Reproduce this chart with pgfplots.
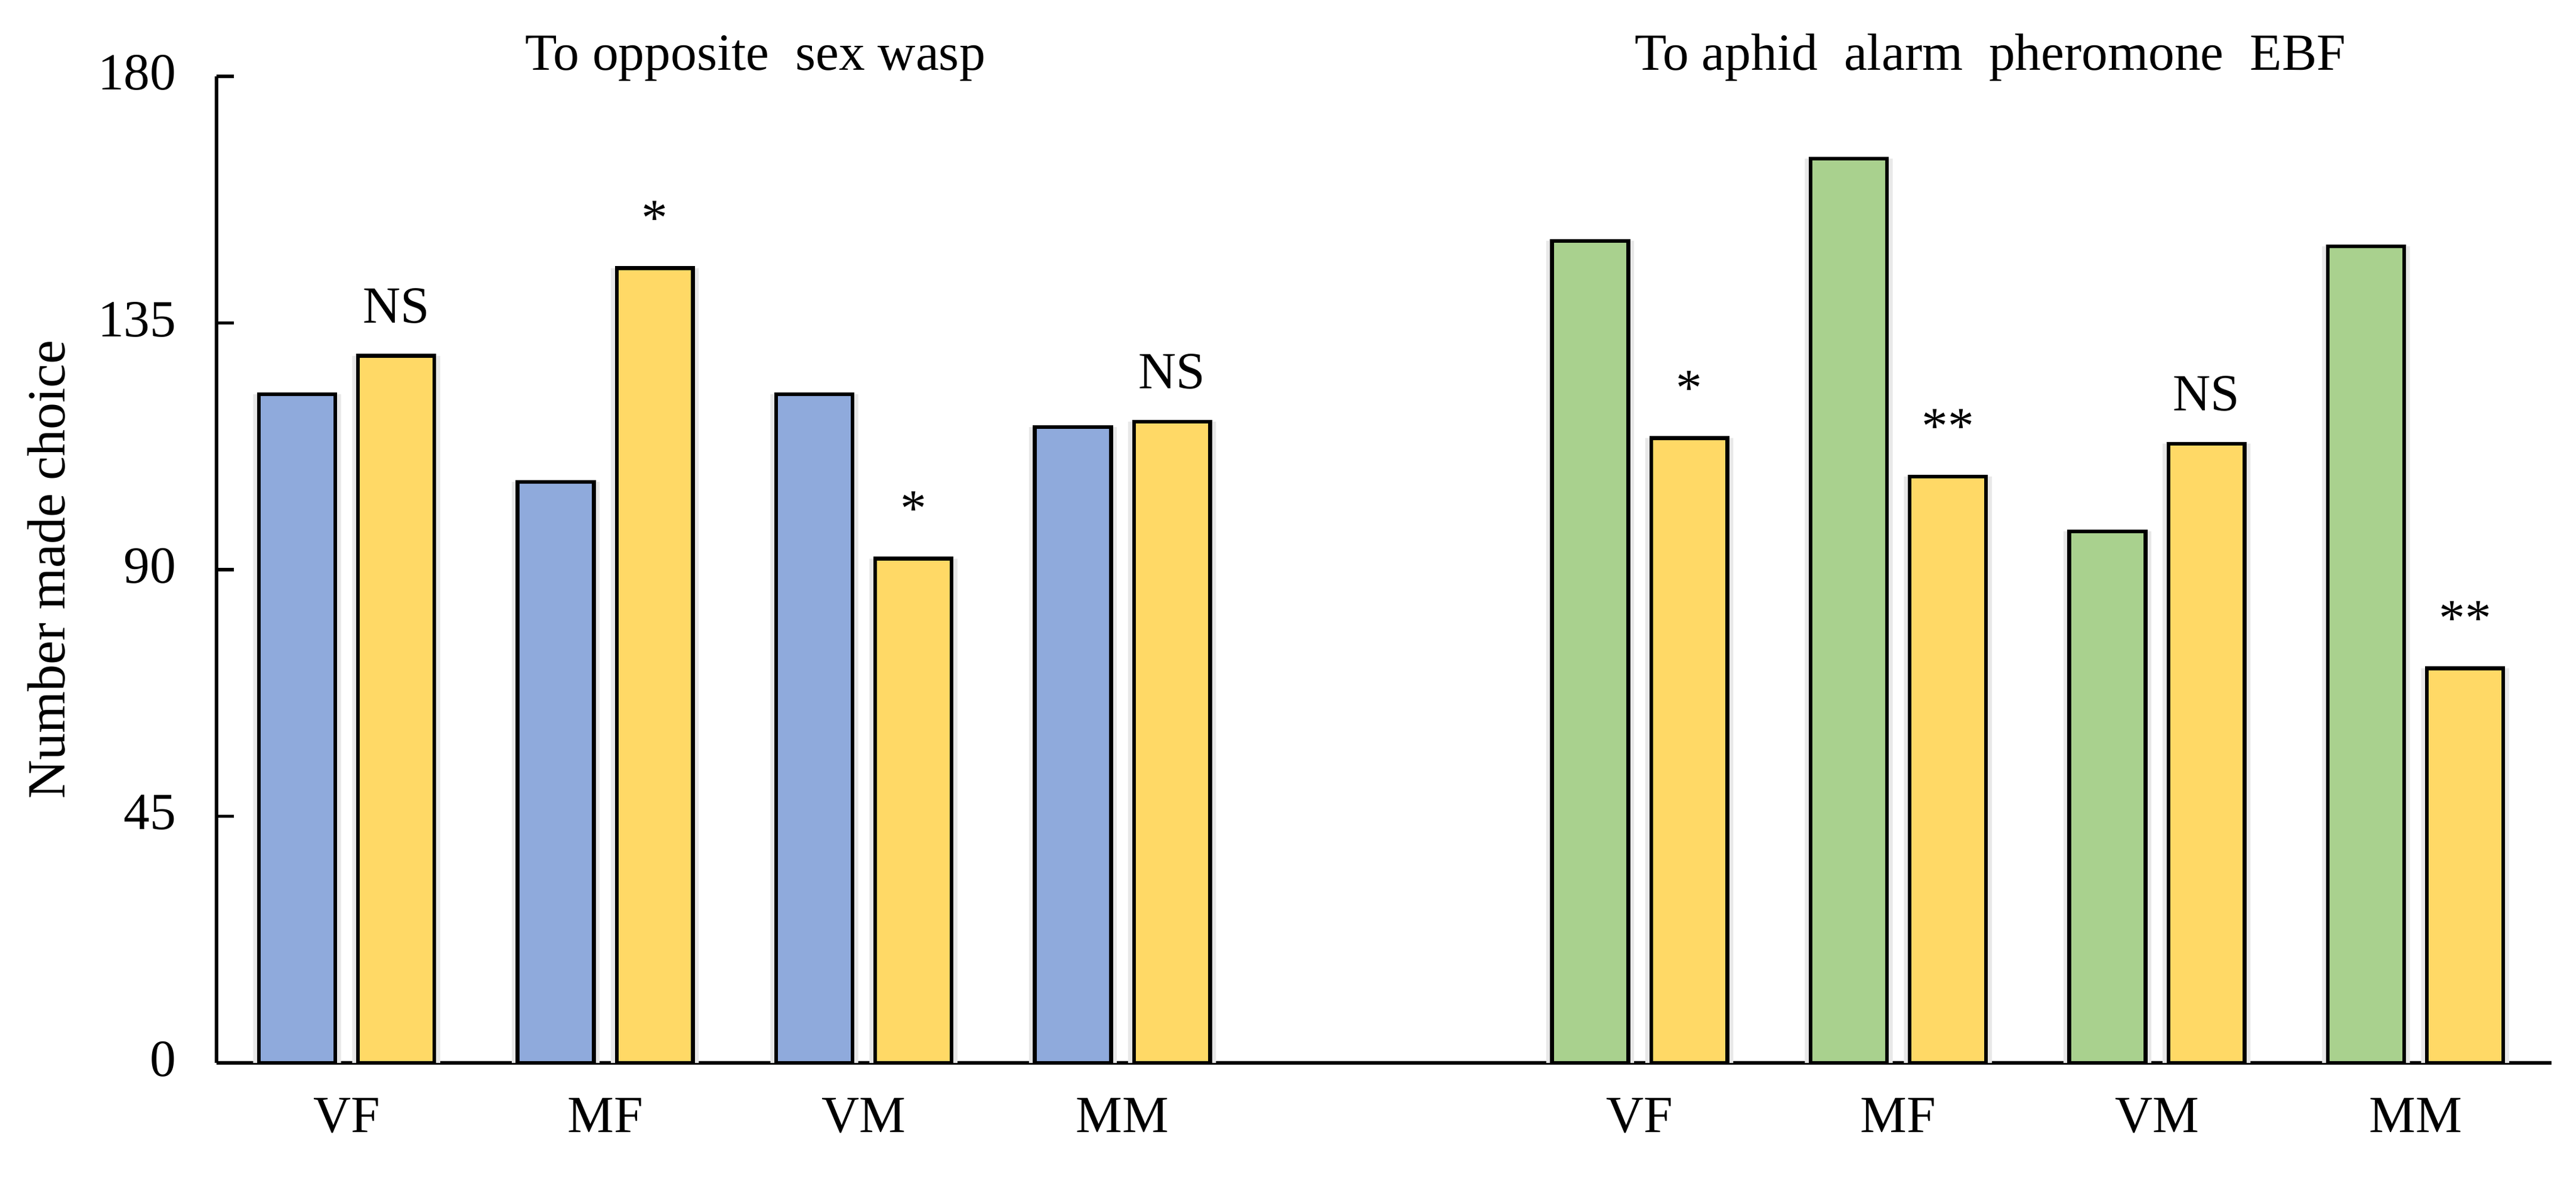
\documentclass[border=0pt]{standalone}
\usepackage{pgfplots}
\pgfplotsset{compat=1.18}
\usepackage{fontspec}
\setmainfont{Liberation Serif}
\definecolor{cblue}{HTML}{8FAADC}
\definecolor{cyellow}{HTML}{FFD966}
\definecolor{cgreen}{HTML}{A9D18E}
\newcommand{\fs}{\fontsize{17.5}{21}\selectfont}
\begin{document}
\begin{tikzpicture}
\begin{axis}[
  scale only axis, width=782.8pt, height=330.8pt,
  xmin=-0.503, xmax=8.526, ymin=0, ymax=180,
  axis x line=bottom, axis y line=left,
  axis line style={-, line width=1.05pt, black},
  ytick={0,45,90,135,180},
  xtick={0,1,2,3,5,6,7,8},
  xticklabels={VF,MF,VM,MM,VF,MF,VM,MM},
  x tick style={draw=none},
  y tick style={line width=1.05pt, black},
  tick align=inside, major tick length=5.7pt,
  tick label style={font=\fs},
  /pgf/number format/assume math mode=true,
  yticklabel style={xshift=-10pt, yshift=1.2pt},
  xticklabel style={yshift=-8.4pt},
  clip=false,
  every axis plot/.append style={ybar, line width=1.25pt},
]
% soft shadows behind bars
\addplot[draw=none, fill=black!9, bar width=0.34, bar shift=-0.1915] coordinates {(0,122) (1,106) (2,122) (3,116)};
\addplot[draw=none, fill=black!9, bar width=0.34, bar shift=0.1915] coordinates {(0,129) (1,145) (2,92) (3,117)};
\addplot[draw=none, fill=black!9, bar width=0.34, bar shift=-0.1915] coordinates {(5,150) (6,165) (7,97) (8,149)};
\addplot[draw=none, fill=black!9, bar width=0.34, bar shift=0.1915] coordinates {(5,114) (6,107) (7,113) (8,72)};
% bars
\addplot[draw=black, fill=cblue, bar width=0.295, bar shift=-0.1915] coordinates {(0,122) (1,106) (2,122) (3,116)};
\addplot[draw=black, fill=cyellow, bar width=0.295, bar shift=0.1915] coordinates {(0,129) (1,145) (2,92) (3,117)};
\addplot[draw=black, fill=cgreen, bar width=0.295, bar shift=-0.1915] coordinates {(5,150) (6,165) (7,97) (8,149)};
\addplot[draw=black, fill=cyellow, bar width=0.295, bar shift=0.1915] coordinates {(5,114) (6,107) (7,113) (8,72)};
% significance
\node[anchor=base, font=\fs] at (axis cs:0.1915,129) [yshift=11pt] {NS};
\node[anchor=base, font=\fs] at (axis cs:1.1915,145) [yshift=11pt] {*};
\node[anchor=base, font=\fs] at (axis cs:2.1915,92) [yshift=11pt] {*};
\node[anchor=base, font=\fs] at (axis cs:3.1915,117) [yshift=11pt] {NS};
\node[anchor=base, font=\fs] at (axis cs:5.1915,114) [yshift=11pt] {*};
\node[anchor=base, font=\fs] at (axis cs:6.1915,107) [yshift=11pt] {**};
\node[anchor=base, font=\fs] at (axis cs:7.1915,113) [yshift=11pt] {NS};
\node[anchor=base, font=\fs] at (axis cs:8.1915,72) [yshift=11pt] {**};
% titles
\node[anchor=base, font=\fs] at (axis cs:1.58,181.1) {To opposite\ \ sex wasp};
\node[anchor=base, font=\fs] at (axis cs:6.355,181.1) {To aphid\ \ alarm\ \ pheromone\ \ EBF};
\end{axis}
\node[rotate=90, font=\fontsize{18}{21}\selectfont] at (-57.1pt,165.4pt) {Number made choice};
\pgfresetboundingbox
\path[use as bounding box] (-72.6pt,-39.4pt) rectangle (791pt,356.4pt);
\end{tikzpicture}
\end{document}
